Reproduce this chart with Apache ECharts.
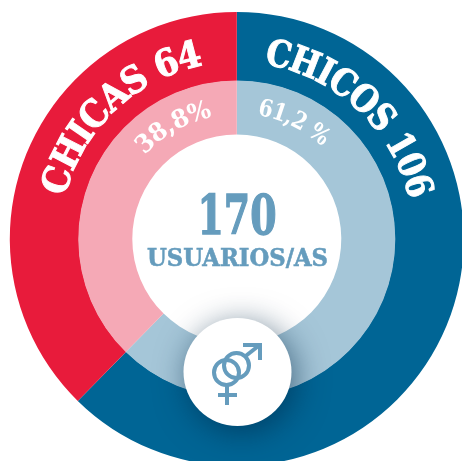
<!DOCTYPE html>
<html>
<head>
<meta charset="utf-8">
<style>html,body{margin:0;padding:0;background:#fff;overflow:hidden}#c{width:462px;height:461px}</style>
<script src="https://cdn.jsdelivr.net/npm/echarts@6/dist/echarts.min.js"></script>
</head>
<body>
<div id="c"></div>
<script>
const categories = ['CHICOS', 'CHICAS'];
const counts = [106, 64];
const percentLabels = ['61,2 %', '38,8%'];
const totalLabel = '170';
const totalCaption = 'USUARIOS/AS';
const outerColors = ['#006595', '#E81B3B'];
const innerColors = ['#A5C6D8', '#F5A9B6'];
const textBlue = '#659CBD';

const cx = 236.8, cy = 239;
const slab = '"DejaVu Serif"';
const ctx = document.createElement('canvas').getContext('2d');
const widthOf = (t, font) => { ctx.font = font; return ctx.measureText(t).width; };

function arcText(text, centerDeg, r, size, spanDeg, heavy) {
  const font = `bold ${size}px ${slab}`;
  const chars = [...text];
  const natural = chars.map(c => widthOf(c, font));
  const total = natural.reduce((a, b) => a + b, 0);
  const target = spanDeg * Math.PI / 180 * r;
  const k = target / total;
  let run = -target / 2;
  return chars.map((c, i) => {
    const w = natural[i] * k;
    const th = (centerDeg * Math.PI / 180) + (run + w / 2) / r;
    run += w;
    return {
      type: 'text', silent: true, z: 10,
      x: cx + r * Math.sin(th), y: cy - r * Math.cos(th),
      rotation: -th, scaleX: k,
      style: { text: c, font, fill: '#fff', stroke: '#fff', lineWidth: heavy, align: 'center', verticalAlign: 'middle' }
    };
  });
}

function fitText(text, centerX, midY, size, targetWidth, heavy) {
  const font = `bold ${size}px ${slab}`;
  return {
    type: 'text', silent: true, z: 10,
    x: centerX, y: midY, scaleX: targetWidth / widthOf(text, font),
    style: { text, font, fill: textBlue, stroke: textBlue, lineWidth: heavy, align: 'center', verticalAlign: 'middle' }
  };
}

const symStroke = { stroke: textBlue, lineWidth: 4, fill: 'none', lineCap: 'butt' };
const symLine = (x1, y1, x2, y2) => ({ type: 'line', silent: true, z: 12, shape: { x1, y1, x2, y2 }, style: symStroke });
const symCircle = (x, y, r) => ({ type: 'circle', silent: true, z: 12, shape: { cx: x, cy: y, r }, style: symStroke });

const chart = echarts.init(document.getElementById('c'), null, { renderer: 'canvas' });
const pie = (radius, colors) => ({
  type: 'pie', center: [cx, cy], radius, startAngle: 90, clockwise: true,
  silent: true, animation: false, label: { show: false }, labelLine: { show: false },
  itemStyle: { borderWidth: 0 },
  data: categories.map((name, i) => ({ name, value: counts[i], itemStyle: { color: colors[i] } }))
});

chart.setOption({
  backgroundColor: '#fff',
  animation: false,
  series: [pie([158, 227], outerColors), pie([104.5, 158.5], innerColors)],
  graphic: [
    ...arcText(`${categories[0]} ${counts[0]}`, 43, 186.5, 37, 68, 1),
    ...arcText(`${categories[1]} ${counts[1]}`, -43.5, 186.5, 37, 65, 1),
    ...arcText(percentLabels[0], 26, 132, 24, 33, 0),
    ...arcText(percentLabels[1], -29.5, 131, 25, 36, 0),
    fitText(totalLabel, 237, 220, 54, 79, 1.5),
    fitText(totalCaption, 237.5, 259, 25, 181, 0.6),
    {
      type: 'circle', silent: true, z: 11,
      shape: { cx: 237.5, cy: 372, r: 54 },
      style: { fill: '#fff', shadowBlur: 32, shadowColor: 'rgba(0,40,70,0.6)', shadowOffsetX: 4, shadowOffsetY: 6 }
    },
    symCircle(226.5, 372.5, 12.5),
    symCircle(236.5, 365.5, 12.5),
    symLine(245, 356.5, 259, 345.5),
    symLine(243, 345, 262, 345),
    symLine(260, 343, 260, 360),
    symLine(227, 385, 227, 405),
    symLine(218, 395, 237, 395)
  ]
});
</script>
</body>
</html>
